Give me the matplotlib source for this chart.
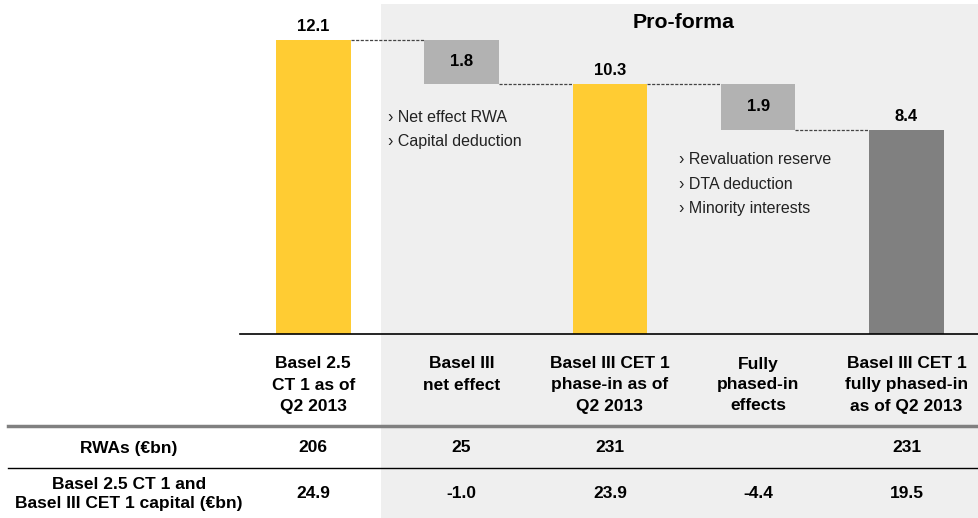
import matplotlib
matplotlib.use("Agg")
import matplotlib.pyplot as plt
from matplotlib.patches import Rectangle
from matplotlib.transforms import blended_transform_factory

plt.rcParams['font.family'] = ['Liberation Sans', 'DejaVu Sans']

# data
categories = ["Basel 2.5\nCT 1 as of\nQ2 2013",
              "Basel III\nnet effect",
              "Basel III CET 1\nphase-in as of\nQ2 2013",
              "Fully\nphased-in\neffects",
              "Basel III CET 1\nfully phased-in\nas of Q2 2013"]
values = [12.1, -1.8, 10.3, -1.9, 8.4]
kinds = ["total", "delta", "total", "delta", "total"]
rwa = ["206", "25", "231", "", "231"]
capital = ["24.9", "-1.0", "23.9", "-4.4", "19.5"]
row_labels = ["RWAs (€bn)", "Basel 2.5 CT 1 and\nBasel III CET 1 capital (€bn)"]
notes_1 = ["Net effect RWA", "Capital deduction"]
notes_2 = ["Revaluation reserve", "DTA deduction", "Minority interests"]

YELLOW = "#FFCC33"
GREY = "#B2B2B2"
DARK = "#808080"
BG = "#EFEFEF"

W, H = 979, 518
fig = plt.figure(figsize=(W / 100, H / 100), dpi=100)

# overlay in pixel coords for background + table
ov = fig.add_axes([0, 0, 1, 1], zorder=0)
ov.set_xlim(0, W)
ov.set_ylim(H, 0)
ov.axis('off')
ov.add_patch(Rectangle((381, 4), W - 381, H - 4, color=BG, lw=0))

# bar axes
ax = fig.add_axes([240 / W, 184 / H, (W - 240) / W, 334 / H], zorder=1)
ax.patch.set_visible(False)
ax.set_xlim(-0.494, 4.489)
ax.set_ylim(0, 334 / 24.3)
for s in ["top", "left", "right"]:
    ax.spines[s].set_visible(False)
ax.spines["bottom"].set_linewidth(1.2)
ax.set_xticks([])
ax.set_yticks([])

bw = 0.503
level = 0
tops = []
for i, (v, k) in enumerate(zip(values, kinds)):
    if k == "total":
        col = DARK if i == len(values) - 1 else YELLOW
        ax.bar(i, v, width=bw, color=col, lw=0)
        ax.annotate(f"{v:.1f}", (i, v), xytext=(0, 4), textcoords="offset points",
                    ha="center", va="bottom", fontsize=12, fontweight="bold")
        level = v
        tops.append((v, v))
    else:
        new = level + v
        ax.bar(i, -v, bottom=new, width=bw, color=GREY, lw=0)
        ax.text(i, new - v / 2, f"{-v:.1f}", ha="center", va="center",
                fontsize=12, fontweight="bold")
        tops.append((level, new))
        level = new

# dashed connectors
for i in range(len(values) - 1):
    y = tops[i][1]
    ax.plot([i + bw / 2, i + 1 - bw / 2], [y, y], color="#444444", lw=0.9,
            ls=(0, (2.5, 1.2)))

tr = blended_transform_factory(ax.transData, ov.transData)

ov.text(2.5, 23, "Pro-forma", transform=tr, ha="center", va="center",
        fontsize=15.3, fontweight="bold")

for j, t in enumerate(notes_1):
    ov.text(0.503, 117 + j * 24.5, "› " + t, transform=tr, ha="left", va="center",
            fontsize=11.5, color="#222222")
for j, t in enumerate(notes_2):
    ov.text(2.466, 160 + j * 24.5, "› " + t, transform=tr, ha="left", va="center",
            fontsize=11.5, color="#222222")

# table
fs = 12.5
for i, c in enumerate(categories):
    ov.text(i, 356.5, c, transform=tr, ha="center", va="top", fontsize=fs,
            fontweight="bold", linespacing=1.5)
    ov.text(i, 448, rwa[i], transform=tr, ha="center", va="center",
            fontsize=fs, fontweight="bold")
    ov.text(i, 494, capital[i], transform=tr, ha="center", va="center",
            fontsize=fs, fontweight="bold")

ov.text(129, 448, row_labels[0], ha="center", va="center", fontsize=fs,
        fontweight="bold")
ov.text(129, 494, row_labels[1], ha="center", va="center", fontsize=fs,
        fontweight="bold", linespacing=1.3)

ov.plot([8, W], [426, 426], color=DARK, lw=2.5)
ov.plot([8, W], [468, 468], color="black", lw=1)

fig.savefig("out.png", dpi=100)
